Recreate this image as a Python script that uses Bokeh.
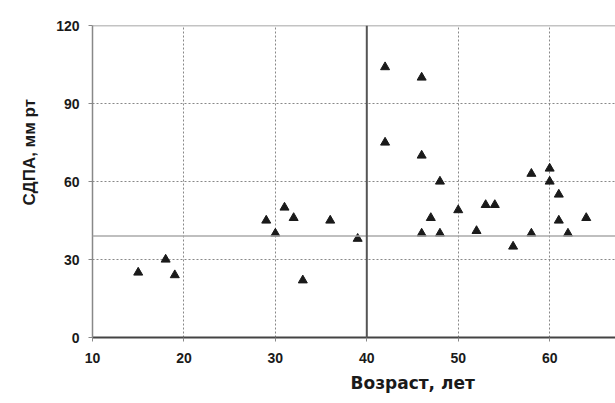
from bokeh.plotting import figure
from bokeh.models import FixedTicker, Span, Title, Range1d
from bokeh.embed import file_html
from bokeh.resources import INLINE

# Data
age = [15, 18, 19, 29, 30, 31, 32, 33, 36, 39, 42, 42, 46, 46, 46, 47, 48, 48,
       50, 52, 53, 54, 56, 58, 58, 60, 60, 61, 61, 62, 64]
sdpa = [25, 30, 24, 45, 40, 50, 46, 22, 45, 38, 104, 75, 100, 70, 40, 46, 60, 40,
        49, 41, 51, 51, 35, 63, 40, 65, 60, 55, 45, 40, 46]
x_ticks = [10, 20, 30, 40, 50, 60]
y_ticks = [0, 30, 60, 90, 120]
age_threshold = 40
sdpa_threshold = 39
x_title = "Возраст, лет"
y_title = "СДПА, мм рт"

FONT = "Liberation Sans"

p = figure(width=615, height=403, output_backend="svg", toolbar_location=None,
           x_range=Range1d(10, 67.2), y_range=Range1d(0, 120),
           min_border_left=92, min_border_right=0, min_border_top=25,
           min_border_bottom=66)
p.outline_line_color = None
p.background_fill_color = "white"
p.border_fill_color = "white"

# axes
p.xaxis.ticker = FixedTicker(ticks=x_ticks)
p.yaxis.ticker = FixedTicker(ticks=y_ticks)
for ax in (p.xaxis[0], p.yaxis[0]):
    ax.major_label_text_font = FONT
    ax.major_label_text_font_style = "bold"
    ax.major_label_text_font_size = "14px"
    ax.major_label_text_color = "#1a1a1a"
    ax.minor_tick_line_color = None
    ax.major_tick_in = 0
    ax.major_tick_out = 4
p.xaxis.axis_line_color = "#444444"
p.xaxis.axis_line_width = 2
p.xaxis.major_tick_line_color = "#888888"
p.xaxis.major_label_standoff = 11
p.yaxis.axis_line_color = "#888888"
p.yaxis.axis_line_width = 1.5
p.yaxis.major_tick_line_color = "#888888"
p.yaxis.major_label_standoff = 9

# grids
p.xgrid.ticker = FixedTicker(ticks=x_ticks)
p.ygrid.ticker = FixedTicker(ticks=y_ticks)
for g in (p.xgrid[0], p.ygrid[0]):
    g.grid_line_color = "#888888"
    g.grid_line_dash = "2 2"
    g.grid_line_width = 1

# top border
p.add_layout(Span(location=120, dimension="width", line_color="#888888", line_width=1.5))
# threshold lines
p.add_layout(Span(location=sdpa_threshold, dimension="width", line_color="#aaaaaa", line_width=1.5))
p.add_layout(Span(location=age_threshold, dimension="height", line_color="#555555", line_width=2))

p.scatter(age, sdpa, marker="triangle", size=9, fill_color="#1a1a1a",
          line_color="#1a1a1a")

# axis titles
p.add_layout(Title(text=x_title, align="left", offset=258, standoff=11,
                   text_font="DejaVu Sans", text_font_style="bold", text_font_size="17px",
                   text_color="#1a1a1a"), "below")
p.add_layout(Title(text=y_title, align="left", offset=132, standoff=30,
                   text_font=FONT, text_font_style="bold", text_font_size="17px",
                   text_color="#1a1a1a"), "left")

open("out.html", "w").write(file_html(p, INLINE))
